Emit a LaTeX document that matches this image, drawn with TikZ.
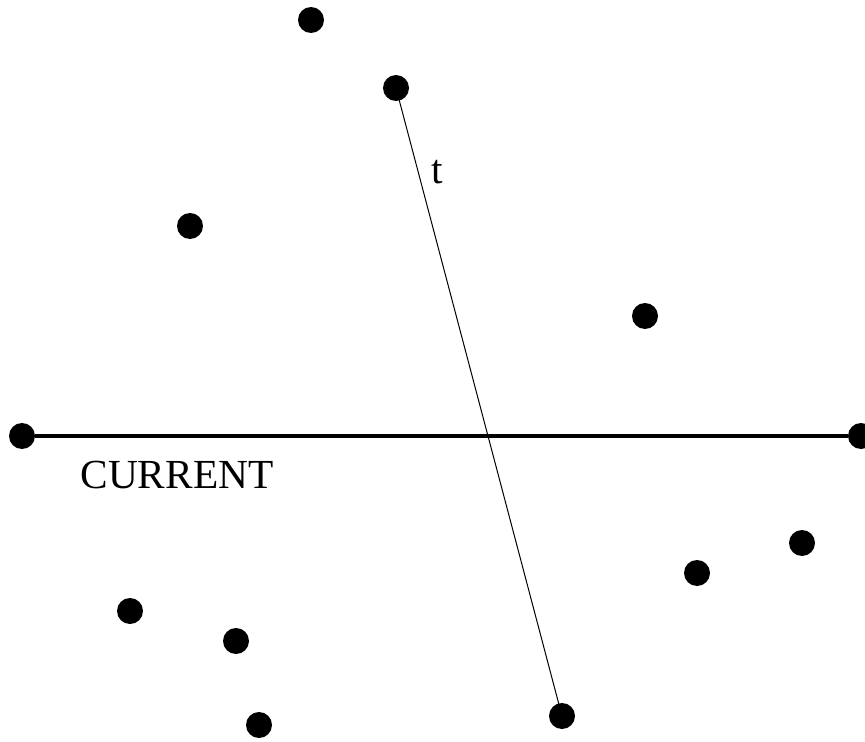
\documentclass[tikz,border=0pt]{standalone}
\usepackage{fontspec}
\setmainfont{Liberation Serif}
\usepackage{tikz}

\begin{document}
\begin{tikzpicture}[x=0.75pt, y=-0.75pt, every node/.style={font=\fontsize{31}{36}\selectfont}, v/.style={circle, fill=black, minimum size=19.5pt, inner sep=0pt}]
	\useasboundingbox (0,0) rectangle (865,742);
	\node[v] (P1) at (311,20) {};
	\node[v] (Ttop) at (396,88) {};
	\node[v] (P2) at (190,226) {};
	\node[v] (P3) at (645,316) {};
	\node[v] (L) at (22,436) {};
	\node[v] (R) at (861,436) {};
	\node[v] (P4) at (802,543) {};
	\node[v] (P5) at (697,573) {};
	\node[v] (P6) at (130,611) {};
	\node[v] (P7) at (236,641) {};
	\node[v] (P8) at (259,725) {};
	\node[v] (Tbot) at (562,716) {};
	\draw[line width=3pt] (L) -- (R);
	\draw[line width=0.75pt] (Ttop.center) -- (Tbot.center);
	\node (tlab) at (437,172) {t};
	\node (cur) at (177,475) {CURRENT};
\end{tikzpicture}
\end{document}
